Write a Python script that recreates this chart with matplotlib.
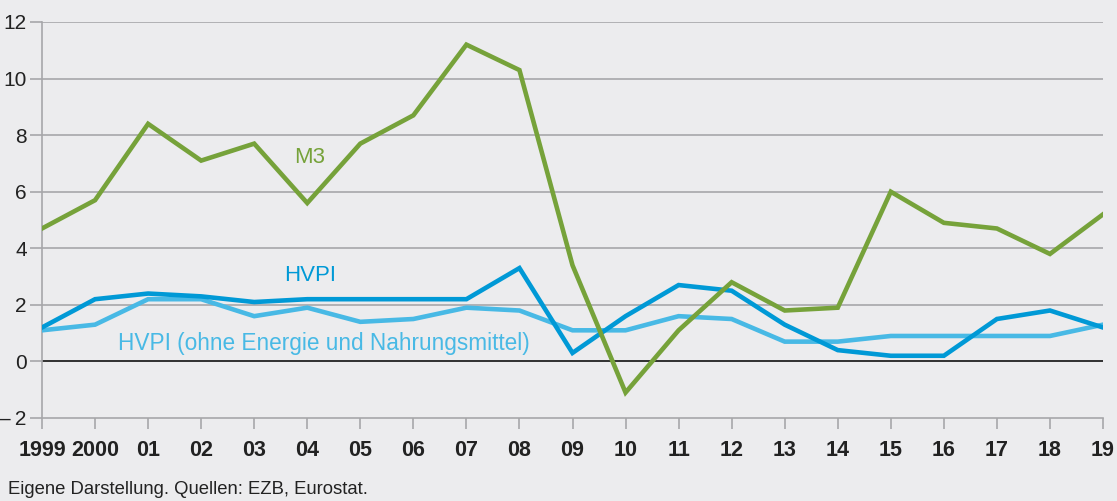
import matplotlib.pyplot as plt

plt.rcParams['font.family'] = ['Liberation Sans', 'DejaVu Sans']

years = list(range(1999, 2020))
year_labels = ['1999', '2000', '01', '02', '03', '04', '05', '06', '07', '08', '09',
               '10', '11', '12', '13', '14', '15', '16', '17', '18', '19']

m3 = [4.7, 5.7, 8.4, 7.1, 7.7, 5.6, 7.7, 8.7, 11.2, 10.3, 3.4,
      -1.1, 1.1, 2.8, 1.8, 1.9, 6.0, 4.9, 4.7, 3.8, 5.2]
hvpi = [1.2, 2.2, 2.4, 2.3, 2.1, 2.2, 2.2, 2.2, 2.2, 3.3, 0.3,
        1.6, 2.7, 2.5, 1.3, 0.4, 0.2, 0.2, 1.5, 1.8, 1.2]
hvpi_core = [1.1, 1.3, 2.2, 2.2, 1.6, 1.9, 1.4, 1.5, 1.9, 1.8, 1.1,
             1.1, 1.6, 1.5, 0.7, 0.7, 0.9, 0.9, 0.9, 0.9, 1.3]

y_ticks = [-2, 0, 2, 4, 6, 8, 10, 12]
y_labels = ['\u2013\u20092', '0', '2', '4', '6', '8', '10', '12']

bg = '#ececee'
green = '#76a23a'
blue = '#0099d6'
light_blue = '#48b9e5'
grid_col = '#a7a7aa'

fig = plt.figure(figsize=(11.17, 5.01), dpi=100, facecolor=bg)
ax = fig.add_axes([42 / 1117, 1 - 418 / 501, (1103 - 42) / 1117, (418 - 22) / 501])
ax.set_facecolor(bg)

# gridlines
for y in y_ticks[2:]:
    ax.axhline(y, color=grid_col, lw=1.2, zorder=1)
ax.axhline(0, color='#222222', lw=1.3, zorder=1)

ax.plot(years, hvpi_core, color=light_blue, lw=3.3, zorder=3, solid_joinstyle='miter')
ax.plot(years, hvpi, color=blue, lw=3.3, zorder=4, solid_joinstyle='miter')
ax.plot(years, m3, color=green, lw=3.3, zorder=5, solid_joinstyle='miter')

ax.set_xlim(1999, 2019)
ax.set_ylim(-2, 12)

ax.set_xticks(years)
ax.set_xticklabels(year_labels, fontsize=15.5, fontweight='bold', color='#222222')
ax.set_yticks(y_ticks)
ax.set_yticklabels(y_labels, fontsize=15, color='#222222')

ax.tick_params(axis='x', length=8, width=1.2, color=grid_col, pad=8, direction='out')
ax.tick_params(axis='y', length=9, width=1.2, color=grid_col, pad=2, direction='out')

for side in ['top', 'right']:
    ax.spines[side].set_visible(False)
for side in ['left', 'bottom']:
    ax.spines[side].set_color(grid_col)
    ax.spines[side].set_linewidth(1.2)

# series labels
ax.text(2004.05, 7.2, 'M3', color=green, fontsize=16, ha='center', va='center')
ax.text(2004.05, 3.05, 'HVPI', color=blue, fontsize=16, ha='center', va='center')
ax.text(2000.43, 0.65, 'HVPI (ohne Energie und Nahrungsmittel)', color=light_blue,
        fontsize=16.3, ha='left', va='center')

fig.text(8 / 1117, 1 - 490 / 501, 'Eigene Darstellung. Quellen: EZB, Eurostat.',
         fontsize=13.3, color='#222222', ha='left', va='center')

fig.savefig('out.png', dpi=100, facecolor=bg)
